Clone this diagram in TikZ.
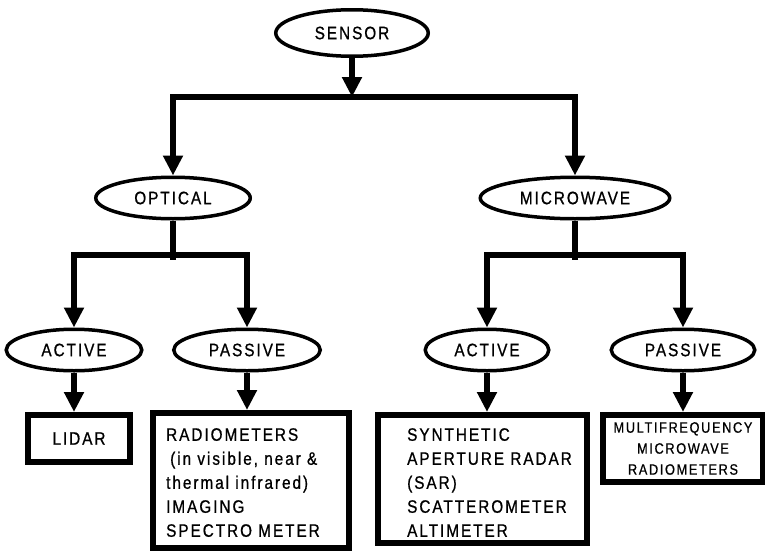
\documentclass[tikz,border=0pt]{standalone}
\usepackage{fontspec}
\newfontfamily\labelfont{Liberation Sans}[FakeStretch=0.85,LetterSpace=11,FakeBold=0.8]
\usetikzlibrary{shapes.geometric, arrows.meta}

\begin{document}
\begin{tikzpicture}[x=1pt, y=1pt,
      oval/.style={draw, ellipse, line width=3.5pt, inner sep=0pt,
                   minimum height=41.5pt,
                   font=\labelfont\fontsize{18}{24}\selectfont},
      itembox/.style={draw, rectangle, line width=6pt, inner sep=0pt,
                   align=center, font=\labelfont\fontsize{18}{24}\selectfont},
      itemtext/.style={inner sep=0pt, align=left, anchor=north west,
                   font=\labelfont\fontsize{18}{24}\selectfont},
      link/.style={line width=5.5pt},
      arr/.style={link, -{Triangle[length=20pt, width=19pt]}}
    ]
  \useasboundingbox[fill=white] (0,0) rectangle (765,-554);

  \node[oval, minimum width=152.5pt, minimum height=46.5pt] (sensor) at (352,-33) {SENSOR};
  \node[oval, minimum width=154.5pt] (optical) at (173,-198) {OPTICAL};
  \node[oval, minimum width=189.5pt] (microwave) at (575,-198) {MICROWAVE};
  \node[oval, minimum width=135.5pt] (optactive) at (74,-350) {ACTIVE};
  \node[oval, minimum width=146.5pt] (optpassive) at (247,-350) {PASSIVE};
  \node[oval, minimum width=123.5pt] (mwactive) at (487,-350) {ACTIVE};
  \node[oval, minimum width=143.5pt] (mwpassive) at (683,-350) {PASSIVE};

  \node[itembox, minimum width=102pt, minimum height=47pt] (lidar) at (79,-438.5) {LIDAR};
  \node[itembox, minimum width=196pt, minimum height=135pt] (radiobox) at (251,-480.5) {};
  \node[itemtext] (radiotext) at (166,-428) {RADIOMETERS\\\hspace*{4pt}(in visible, near \&\\thermal infrared)\\IMAGING\\SPECTRO METER};
  \node[itembox, minimum width=209pt, minimum height=128pt] (sarbox) at (482.5,-479) {};
  \node[itemtext] (sartext) at (407,-428) {SYNTHETIC\\APERTURE RADAR\\(SAR)\\SCATTEROMETER\\ALTIMETER};
  \node[itembox, minimum width=160pt, minimum height=67pt,
        font=\labelfont\fontsize{15}{21}\selectfont] (multibox) at (683,-448.5) {MULTIFREQUENCY\\MICROWAVE\\RADIOMETERS};

  \coordinate (sensorbar) at (352,-97);
  \coordinate (opticalbar) at (173,-255);
  \coordinate (microbar) at (575,-255);

  \draw[arr] (sensor) -- (sensorbar);
  \draw[arr] (sensorbar) -| (optical);
  \draw[arr] (sensorbar) -| (microwave);
  \draw[link] (optical) -- ([yshift=-5pt]opticalbar);
  \draw[arr] (opticalbar) -| (optactive);
  \draw[arr] (opticalbar) -| (optpassive);
  \draw[link] (microwave) -- ([yshift=-5pt]microbar);
  \draw[arr] (microbar) -| (mwactive);
  \draw[arr] (microbar) -| (mwpassive);
  \draw[arr] (optactive) -- (optactive |- lidar.north);
  \draw[arr] (optpassive) -- (optpassive |- radiobox.north);
  \draw[arr] (mwactive) -- (mwactive |- sarbox.north);
  \draw[arr] (mwpassive) -- (mwpassive |- multibox.north);
\end{tikzpicture}
\end{document}
